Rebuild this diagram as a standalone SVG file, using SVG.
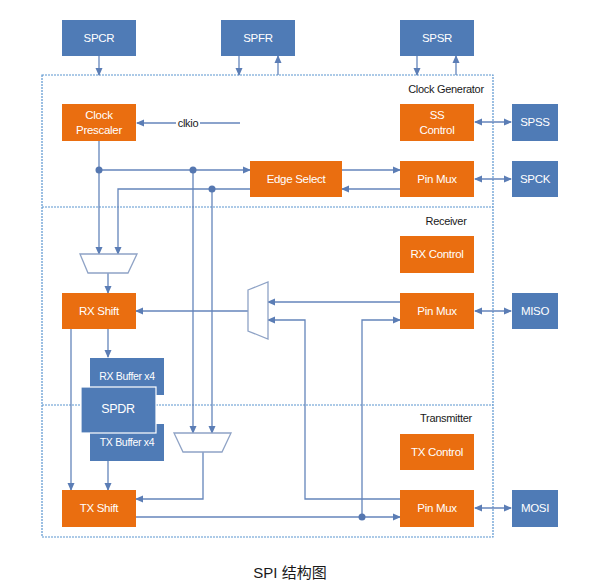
<svg xmlns="http://www.w3.org/2000/svg" width="610" height="587" viewBox="0 0 610 587">
<style>
.bg{fill:#ffffff}
.frame{fill:none;stroke:#5b95cf;stroke-width:1.2;stroke-dasharray:2 1}
.or{fill:#ea6e10}
.bl{fill:#4f7bb6}
.sp{fill:#4f7bb6;stroke:#ffffff;stroke-width:1.2}
.wt{font-family:"Liberation Sans",Arial,sans-serif;font-size:11.5px;fill:#ffffff;text-anchor:middle;dominant-baseline:central;letter-spacing:-0.3px}
.bt{font-family:"Liberation Sans",Arial,sans-serif;font-size:11px;fill:#1a1a1a;text-anchor:middle;dominant-baseline:central;letter-spacing:-0.3px}
.ln{fill:none;stroke:#6485bb;stroke-width:1.3}
.mux{fill:#ffffff;stroke:#8fa3c6;stroke-width:1.3}
.dot{fill:#5577b0}
.cap{font-family:"Liberation Sans","Noto Sans CJK SC",sans-serif;font-size:15px;fill:#1a1a1a;text-anchor:middle;dominant-baseline:central}
</style>
<defs>
<marker id="ah" viewBox="0 0 8 8" refX="7" refY="4" markerWidth="8" markerHeight="8" markerUnits="userSpaceOnUse" orient="auto-start-reverse">
<path d="M0,0.5 L8,4 L0,7.5 Z" fill="#5b7db5"/>
</marker>
</defs>
<rect class="bg" x="0" y="0" width="610" height="587"/>

<g id="frame">
<rect class="frame" x="42" y="75" width="451" height="462"/>
<line class="frame" x1="42" y1="207" x2="493" y2="207"/>
<line class="frame" x1="42" y1="405" x2="493" y2="405"/>
</g>

<g id="section-labels">
<text class="bt" x="446" y="89">Clock Generator</text>
<text class="bt" x="446" y="221">Receiver</text>
<text class="bt" x="446" y="418">Transmitter</text>
</g>

<g id="connectors">
<path class="ln" d="M99,56 V75" marker-end="url(#ah)"/>
<path class="ln" d="M239,56 V75" marker-end="url(#ah)"/>
<path class="ln" d="M278,75 V56" marker-end="url(#ah)"/>
<path class="ln" d="M417,56 V75" marker-end="url(#ah)"/>
<path class="ln" d="M456,75 V56" marker-end="url(#ah)"/>
<path class="ln" d="M240,123 H137" marker-end="url(#ah)"/>
<path class="ln" d="M475,122 H511" marker-start="url(#ah)" marker-end="url(#ah)"/>
<path class="ln" d="M475,179 H511" marker-start="url(#ah)" marker-end="url(#ah)"/>
<path class="ln" d="M475,311 H511" marker-start="url(#ah)" marker-end="url(#ah)"/>
<path class="ln" d="M475,508 H511" marker-start="url(#ah)" marker-end="url(#ah)"/>
<path class="ln" d="M99,141 V254" marker-end="url(#ah)"/>
<path class="ln" d="M99,170 H250" marker-end="url(#ah)"/>
<path class="ln" d="M193,170 V433" marker-end="url(#ah)"/>
<path class="ln" d="M250,189 H118 V254" marker-end="url(#ah)"/>
<path class="ln" d="M212,189 V433" marker-end="url(#ah)"/>
<path class="ln" d="M342,170 H400" marker-end="url(#ah)"/>
<path class="ln" d="M400,189 H342" marker-end="url(#ah)"/>
<path class="ln" d="M108,273 V293" marker-end="url(#ah)"/>
<path class="ln" d="M248,311 H136" marker-end="url(#ah)"/>
<path class="ln" d="M400,302 H268" marker-end="url(#ah)"/>
<path class="ln" d="M400,499 H305 V320 H268" marker-end="url(#ah)"/>
<path class="ln" d="M362,517 V320 H400" marker-end="url(#ah)"/>
<path class="ln" d="M136,517 H400" marker-end="url(#ah)"/>
<path class="ln" d="M108,329 V357" marker-end="url(#ah)"/>
<path class="ln" d="M71,329 V490" marker-end="url(#ah)"/>
<path class="ln" d="M108,461 V490" marker-end="url(#ah)"/>
<path class="ln" d="M203,452 V499 H136" marker-end="url(#ah)"/>
<circle class="dot" cx="99" cy="170" r="3.5"/>
<circle class="dot" cx="193" cy="170" r="3.5"/>
<circle class="dot" cx="212" cy="189" r="3.5"/>
<circle class="dot" cx="362" cy="517" r="3.5"/>
<rect x="176" y="116" width="24" height="14" fill="#ffffff"/>
<text class="bt" x="188" y="123">clkio</text>
</g>

<g id="mux-rx"><polygon class="mux" points="80,254 137,254 128,273 88,273"/></g>
<g id="mux-in"><polygon class="mux" points="248,290 268,282 268,339 248,331"/></g>
<g id="mux-tx"><polygon class="mux" points="174,433 231,433 222,452 183,452"/></g>

<g id="SPCR"><rect class="bl" x="62" y="20" width="74" height="36"/><text class="wt" x="99" y="38">SPCR</text></g>
<g id="SPFR"><rect class="bl" x="221" y="20" width="74" height="36"/><text class="wt" x="258" y="38">SPFR</text></g>
<g id="SPSR"><rect class="bl" x="400" y="20" width="74" height="36"/><text class="wt" x="437" y="38">SPSR</text></g>

<g id="clock-prescaler"><rect class="or" x="62" y="104" width="74" height="37"/><text class="wt" x="99" y="115">Clock</text><text class="wt" x="99" y="130">Prescaler</text></g>
<g id="ss-control"><rect class="or" x="400" y="104" width="74" height="37"/><text class="wt" x="437" y="115">SS</text><text class="wt" x="437" y="130">Control</text></g>
<g id="SPSS"><rect class="bl" x="512" y="104" width="46" height="37"/><text class="wt" x="535" y="122">SPSS</text></g>

<g id="edge-select"><rect class="or" x="250" y="161" width="92" height="36"/><text class="wt" x="296" y="179">Edge Select</text></g>
<g id="pin-mux-clk"><rect class="or" x="400" y="161" width="74" height="36"/><text class="wt" x="437" y="179">Pin Mux</text></g>
<g id="SPCK"><rect class="bl" x="512" y="161" width="46" height="36"/><text class="wt" x="535" y="179">SPCK</text></g>

<g id="rx-control"><rect class="or" x="400" y="236" width="74" height="37"/><text class="wt" x="437" y="254">RX Control</text></g>
<g id="rx-shift"><rect class="or" x="62" y="293" width="74" height="36"/><text class="wt" x="99" y="311">RX Shift</text></g>
<g id="pin-mux-rx"><rect class="or" x="400" y="293" width="74" height="36"/><text class="wt" x="437" y="311">Pin Mux</text></g>
<g id="MISO"><rect class="bl" x="512" y="293" width="46" height="36"/><text class="wt" x="535" y="311">MISO</text></g>

<g id="rx-buffer"><rect class="bl" x="90" y="358" width="74" height="37"/><text class="wt" x="127" y="376" style="font-size:10.5px">RX Buffer x4</text></g>
<g id="tx-buffer"><rect class="bl" x="90" y="424" width="74" height="37"/><text class="wt" x="127" y="442" style="font-size:10.5px">TX Buffer x4</text></g>
<g id="SPDR"><rect class="sp" x="81" y="387" width="75" height="46"/><text class="wt" x="118" y="409" style="font-size:12.5px">SPDR</text></g>

<g id="tx-control"><rect class="or" x="400" y="434" width="74" height="36"/><text class="wt" x="437" y="452">TX Control</text></g>
<g id="tx-shift"><rect class="or" x="62" y="490" width="74" height="37"/><text class="wt" x="99" y="508">TX Shift</text></g>
<g id="pin-mux-tx"><rect class="or" x="400" y="490" width="74" height="37"/><text class="wt" x="437" y="508">Pin Mux</text></g>
<g id="MOSI"><rect class="bl" x="512" y="490" width="46" height="37"/><text class="wt" x="535" y="508">MOSI</text></g>

<text class="cap" x="290" y="572">SPI 结构图</text>
</svg>
